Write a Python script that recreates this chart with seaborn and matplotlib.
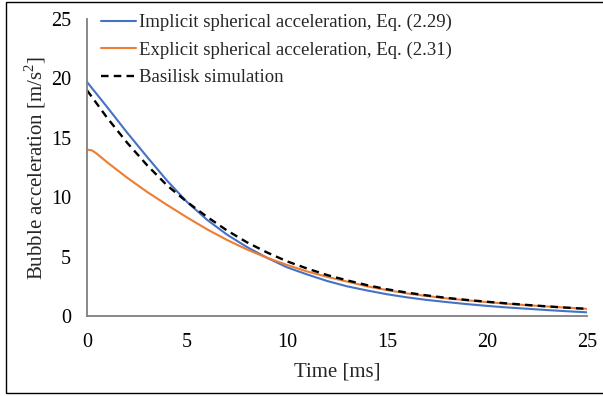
import matplotlib
matplotlib.use("Agg")
import matplotlib.pyplot as plt
import seaborn as sns
import pandas as pd
from matplotlib.patches import Rectangle

# ---- data ----
t_implicit = [0, 1, 2, 3, 4, 5, 6, 7, 8, 9, 10, 11, 12, 13, 14, 15, 16, 17, 18, 19, 20, 21, 22, 23, 24, 25]
a_implicit = [19.7, 17.6, 15.45, 13.4, 11.4, 9.6, 8.1, 6.85, 5.8, 4.9, 4.1, 3.5, 2.95, 2.5, 2.15, 1.83,
              1.57, 1.35, 1.17, 1.0, 0.85, 0.72, 0.61, 0.5, 0.4, 0.31]

t_explicit = [0, 0.25, 0.5, 1, 2, 3, 4, 5, 6, 7, 8, 9, 10, 11, 12, 13, 14, 15, 16, 17, 18, 19, 20, 21, 22, 23, 24, 25]
a_explicit = [14.0, 13.94, 13.65, 12.95, 11.65, 10.45, 9.35, 8.3, 7.3, 6.4, 5.6, 4.9, 4.3, 3.75, 3.3, 2.9,
              2.5, 2.18, 1.9, 1.68, 1.48, 1.32, 1.17, 1.03, 0.91, 0.8, 0.7, 0.6]

t_basilisk = [0, 1, 2, 3, 4, 5, 6, 7, 8, 9, 10, 11, 12, 13, 14, 15, 16, 17, 18, 19, 20, 21, 22, 23, 24, 25]
a_basilisk = [19.0, 16.7, 14.6, 12.7, 11.0, 9.6, 8.35, 7.2, 6.2, 5.35, 4.6, 4.0, 3.45, 3.0, 2.6, 2.25,
              1.97, 1.73, 1.52, 1.35, 1.2, 1.06, 0.93, 0.81, 0.7, 0.6]

labels = ["Implicit spherical acceleration, Eq. (2.29)",
          "Explicit spherical acceleration, Eq. (2.31)",
          "Basilisk simulation"]
x_ticks = [0, 5, 10, 15, 20, 25]
y_ticks = [0, 5, 10, 15, 20, 25]

colors = ["#4472C4", "#ED7D31", "black"]

sns.set_style("white")
plt.rcParams["font.family"] = ["Liberation Serif", "DejaVu Serif"]
plt.rcParams["mathtext.fontset"] = "custom"
plt.rcParams["mathtext.rm"] = "Liberation Serif"

fig = plt.figure(figsize=(6.03, 3.96), dpi=100)
ax = fig.add_axes([87 / 603, 1 - 316 / 396, 500 / 603, 297 / 396])

df1 = pd.DataFrame({"t": t_implicit, "a": a_implicit})
df2 = pd.DataFrame({"t": t_explicit, "a": a_explicit})
df3 = pd.DataFrame({"t": t_basilisk, "a": a_basilisk})

sns.lineplot(data=df1, x="t", y="a", ax=ax, color=colors[0], lw=1.5, label=labels[0])
sns.lineplot(data=df2, x="t", y="a", ax=ax, color=colors[1], lw=1.5, label=labels[1])
sns.lineplot(data=df3, x="t", y="a", ax=ax, color=colors[2], lw=1.7, ls=(0, (3.2, 2.2)), label=labels[2])

ax.set_xlim(0, 25)
ax.set_ylim(0, 25)
ax.set_xticks(x_ticks)
ax.set_yticks(y_ticks)
ax.set_xlabel("Time [ms]", fontsize=15, labelpad=8)
ax.set_ylabel("Bubble acceleration [m/s$^2$]", fontsize=15, labelpad=2)
ax.tick_params(axis="both", direction="in", length=4, width=1, color="#333333",
               labelsize=14.5, labelcolor="black")
ax.tick_params(axis="x", pad=12)
ax.tick_params(axis="y", pad=11.5)
for s in ["top", "right"]:
    ax.spines[s].set_visible(False)
for s in ["left", "bottom"]:
    ax.spines[s].set_color("#7f7f7f")
    ax.spines[s].set_linewidth(1.3)

leg = ax.legend(loc="upper left", bbox_to_anchor=(0.012, 1.042), frameon=False, fontsize=13.5,
                handlelength=1.9, handletextpad=0.15, labelspacing=0.55, borderaxespad=0)

fig.patches.append(Rectangle((6 / 603, 3.5 / 396), 1.0, 391 / 396, transform=fig.transFigure,
                             fill=False, edgecolor="black", lw=1.0))

fig.savefig("out.png", dpi=100)
